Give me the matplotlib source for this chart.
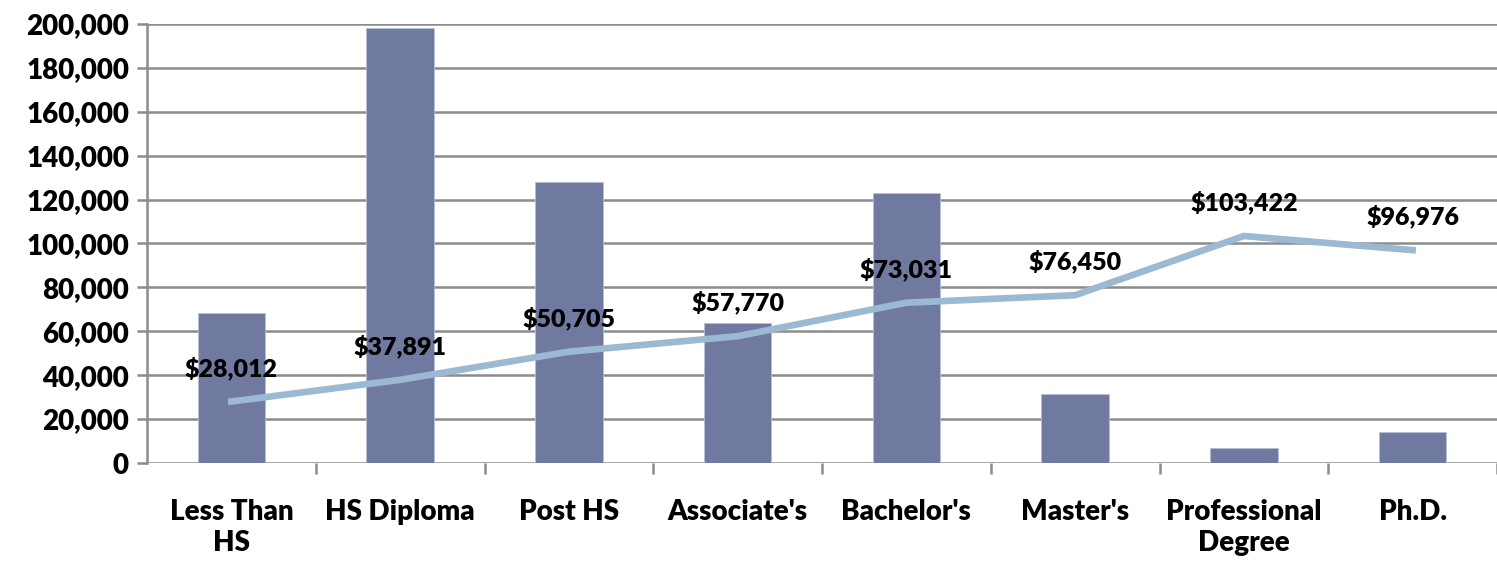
import matplotlib
matplotlib.use("Agg")
import matplotlib.pyplot as plt
import matplotlib.ticker as mticker

categories = ["Less Than\nHS", "HS Diploma", "Post HS", "Associate's", "Bachelor's",
              "Master's", "Professional\nDegree", "Ph.D."]
counts = [68400, 198400, 128000, 63800, 123000, 31300, 7000, 13900]
earnings = [28012, 37891, 50705, 57770, 73031, 76450, 103422, 96976]

plt.rcParams["font.family"] = ["Lato", "DejaVu Sans"]
plt.rcParams["font.weight"] = "heavy"

fig = plt.figure(figsize=(14.97, 5.66), dpi=100)
ax = fig.add_axes([147 / 1497, 1 - 463 / 566, 1 - 147 / 1497, (463 - 24) / 566])

x = list(range(len(categories)))
ax.bar(x, counts, width=0.4, color="#707aa0", edgecolor="#b8bfd6", linewidth=0.6, zorder=3)
ax.plot(x, earnings, color="#9cb9d3", linewidth=4.8, solid_joinstyle="round", zorder=4)

for xi, v in zip(x, earnings):
    ax.annotate(f"${v:,}", (xi, v), xytext=(0, 24), textcoords="offset points",
                ha="center", va="center", fontsize=18, fontweight="heavy", zorder=5)

ax.set_ylim(0, 200000)
ax.set_xlim(-0.5, -0.5 + (1497 - 147) / 170)
ax.yaxis.set_major_locator(mticker.MultipleLocator(20000))
ax.yaxis.set_major_formatter(mticker.FuncFormatter(lambda v, _: f"{int(v):,}"))
ax.grid(axis="y", color="#8c8c8c", linewidth=1.8, zorder=0)

ax.set_xticks(x)
ax.set_xticklabels(categories, fontsize=20, fontweight="heavy", linespacing=1.25)
ax.set_xticks([i + 0.5 for i in range(len(categories))], minor=True)
ax.tick_params(axis="x", which="major", length=0, pad=26)
ax.tick_params(axis="x", which="minor", length=8, width=1.8, color="#8c8c8c")
ax.tick_params(axis="y", length=7, width=1.8, color="#8c8c8c", labelsize=20, pad=6)
for lbl in ax.get_yticklabels():
    lbl.set_fontweight("heavy")

for side in ["top", "right", "bottom"]:
    ax.spines[side].set_visible(False)
ax.spines["left"].set_color("#8c8c8c")
ax.spines["left"].set_linewidth(1.8)
ax.spines["left"].set_bounds(0, 200000)

fig.savefig("out.png", dpi=100)
